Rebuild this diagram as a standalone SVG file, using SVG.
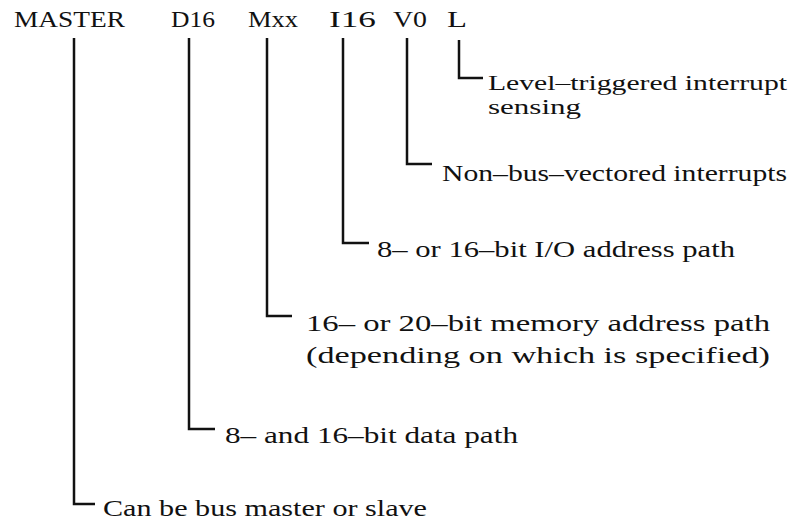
<svg xmlns="http://www.w3.org/2000/svg" width="793" height="521" viewBox="0 0 793 521">
<style>
text{font-family:"Liberation Serif","Times New Roman",serif;font-size:24px;fill:#111}
.s{font-size:22px}
.c{fill:none;stroke:#111;stroke-width:2.5;stroke-linejoin:miter;stroke-linecap:butt}
</style>
<rect width="793" height="521" fill="#fff"/>
<g id="n-master"><text x="14" y="27" textLength="111" lengthAdjust="spacingAndGlyphs">MASTER</text></g>
<g id="n-d16"><text x="171" y="27" textLength="44" lengthAdjust="spacingAndGlyphs">D16</text></g>
<g id="n-mxx"><text x="248" y="27" textLength="50" lengthAdjust="spacingAndGlyphs">Mxx</text></g>
<g id="n-i16"><text x="329" y="27" textLength="47" lengthAdjust="spacingAndGlyphs">I16</text></g>
<g id="n-v0"><text x="393" y="27" textLength="34" lengthAdjust="spacingAndGlyphs">V0</text></g>
<g id="n-l"><text x="447" y="27" textLength="20" lengthAdjust="spacingAndGlyphs">L</text></g>
<g id="n-level"><text class="s" x="488" y="90" textLength="299" lengthAdjust="spacingAndGlyphs">Level–triggered interrupt</text><text class="s" x="488" y="114" textLength="93" lengthAdjust="spacingAndGlyphs">sensing</text></g>
<g id="n-nonbus"><text x="442" y="181" textLength="345" lengthAdjust="spacingAndGlyphs">Non–bus–vectored interrupts</text></g>
<g id="n-io"><text x="377" y="257" textLength="358" lengthAdjust="spacingAndGlyphs">8– or 16–bit I/O address path</text></g>
<g id="n-mem"><text x="306" y="331" textLength="464" lengthAdjust="spacingAndGlyphs">16– or 20–bit memory address path</text><text x="306" y="363" textLength="464" lengthAdjust="spacingAndGlyphs">(depending on which is specified)</text></g>
<g id="n-data"><text x="225" y="443" textLength="293" lengthAdjust="spacingAndGlyphs">8– and 16–bit data path</text></g>
<g id="n-bus"><text x="103" y="516" textLength="324" lengthAdjust="spacingAndGlyphs">Can be bus master or slave</text></g>
<g id="connectors">
<path class="c" d="M459 40V78H483"/>
<path class="c" d="M407 38V164H432"/>
<path class="c" d="M343 38V243H369"/>
<path class="c" d="M267 38V316H292"/>
<path class="c" d="M189 38V429H215"/>
<path class="c" d="M74 38V504H95"/>
</g>
</svg>
